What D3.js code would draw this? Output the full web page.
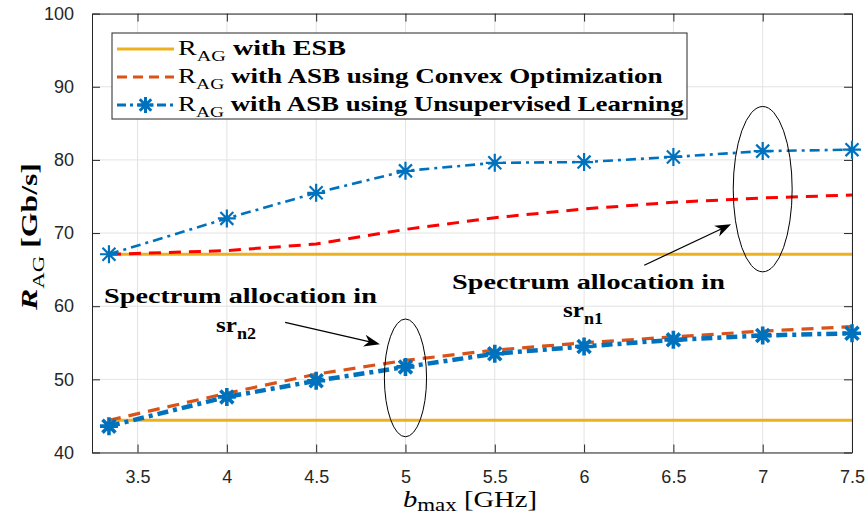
<!DOCTYPE html>
<html>
<head>
<meta charset="utf-8">
<script src="https://cdn.jsdelivr.net/npm/d3@7"></script>
<style>
  body { margin: 0; background: #fff; }
</style>
</head>
<body>
<svg id="chart" width="868" height="518"></svg>
<script>
// data
const bmax = [3.34, 4, 4.5, 5, 5.5, 6, 6.5, 7, 7.5];

// sr_n1 (upper group)
const esbN1    = [67.1, 67.1, 67.1, 67.1, 67.1, 67.1, 67.1, 67.1, 67.1];
const convexN1 = [67.1, 67.6, 68.5, 70.5, 72.1, 73.3, 74.2, 74.8, 75.2];
const unsupN1  = [67.1, 72.0, 75.5, 78.5, 79.6, 79.7, 80.4, 81.2, 81.4];

// sr_n2 (lower group)
const esbN2    = [44.4, 44.4, 44.4, 44.4, 44.4, 44.4, 44.4, 44.4, 44.4];
const convexN2 = [44.4, 48.1, 50.7, 52.6, 54.0, 55.0, 55.8, 56.6, 57.2];
const unsupN2  = [43.6, 47.6, 49.8, 51.7, 53.5, 54.5, 55.4, 56.0, 56.3];

const xTicks = [3.5, 4, 4.5, 5, 5.5, 6, 6.5, 7, 7.5];
const xTickLabels = ["3.5", "4", "4.5", "5", "5.5", "6", "6.5", "7", "7.5"];
const yTicks = [40, 50, 60, 70, 80, 90, 100];
const yTickLabels = ["40", "50", "60", "70", "80", "90", "100"];

const legendLabels = ["with ESB", "with ASB using Convex Optimization", "with ASB using Unsupervised Learning"];

const COLORS = {esb: "#EDB120", convex: "#D95319", convexHi: "#FF0000", unsup: "#0072BD", axis: "#262626", grid: "#e3e3e3"};
const MARGINS = {top: 13.6, right: 16, bottom: 65.5, left: 92};
const WIDTH = 868, HEIGHT = 518;
const SERIF = "'Liberation Serif', 'Times New Roman', serif";
const SANS = "'Liberation Sans', Arial, sans-serif";

const svg = d3.select("#chart");

const x = d3.scaleLinear().domain([3.245, 7.5]).range([MARGINS.left, WIDTH - MARGINS.right]);
const y = d3.scaleLinear().domain([40, 100]).range([HEIGHT - MARGINS.bottom, MARGINS.top]);

// grid
svg.append("g").selectAll("line").data(xTicks).enter().append("line")
    .attr("x1", d => x(d)).attr("x2", d => x(d))
    .attr("y1", y(40)).attr("y2", y(100))
    .style("stroke", COLORS.grid).style("stroke-width", 1);
svg.append("g").selectAll("line").data(yTicks).enter().append("line")
    .attr("x1", x.range()[0]).attr("x2", x.range()[1])
    .attr("y1", d => y(d)).attr("y2", d => y(d))
    .style("stroke", COLORS.grid).style("stroke-width", 1);

// axes with inward ticks on all four sides
function styleAxis(g){
    g.select(".domain").style("stroke", COLORS.axis).style("stroke-width", 1);
    g.selectAll(".tick line").style("stroke", COLORS.axis);
    g.selectAll(".tick text").style("fill", COLORS.axis).style("font-family", SANS).style("font-size", "18px");
}
const fmtX = (d, i) => xTickLabels[i];
const fmtY = (d, i) => yTickLabels[i];

svg.append("g")
    .attr("transform", `translate(0, ${y(40)})`)
    .call(d3.axisBottom(x).tickValues(xTicks).tickFormat(fmtX).tickSizeInner(-8).tickSizeOuter(0).tickPadding(18))
    .call(styleAxis);
svg.append("g")
    .attr("transform", `translate(0, ${y(100)})`)
    .call(d3.axisTop(x).tickValues(xTicks).tickFormat("").tickSizeInner(-8).tickSizeOuter(0))
    .call(styleAxis);
svg.append("g")
    .attr("transform", `translate(${x.range()[0]}, 0)`)
    .call(d3.axisLeft(y).tickValues(yTicks).tickFormat(fmtY).tickSizeInner(-8).tickSizeOuter(0).tickPadding(18))
    .call(styleAxis);
svg.append("g")
    .attr("transform", `translate(${x.range()[1]}, 0)`)
    .call(d3.axisRight(y).tickValues(yTicks).tickFormat("").tickSizeInner(-8).tickSizeOuter(0))
    .call(styleAxis);

// text with sub-scripts, parts: {t, italic, bold, sub}; drawn at origin of its own group
function richText(parent, parts, size, subDrop, subScale){
    subDrop = subDrop === undefined ? 0.3 : subDrop;
    subScale = subScale === undefined ? 0.72 : subScale;
    const g = parent.append("g");
    const t = g.append("text")
        .style("font-family", SERIF)
        .style("font-size", size + "px")
        .style("fill", "#000");
    let shifted = 0;
    parts.forEach(function(p){
        const s = t.append("tspan").text(p.t);
        const want = p.sub ? size * subDrop : 0;
        if (want !== shifted) { s.attr("dy", want - shifted); shifted = want; }
        if (p.sub) s.style("font-size", (size * subScale) + "px");
        s.style("font-style", p.italic ? "italic" : "normal");
        s.style("font-weight", p.bold ? "bold" : "normal");
    });
    return {g: g, t: t};
}

// place text with its start at (px, py), stretched horizontally to the width seen in the reference
function place(rt, px, py, target, rotate){
    const w = rt.t.node().getComputedTextLength();
    const k = target / w;
    rt.g.attr("transform", `translate(${px}, ${py})` + (rotate ? ` rotate(${rotate})` : "") + ` scale(${k}, 1)`);
    return rt;
}

// series
const line = d3.line().x(d => x(d[0])).y(d => y(d[1]));
const zipped = vals => bmax.map((b, i) => [b, vals[i]]);

function drawLine(vals, color, width, dash){
    svg.append("path")
        .datum(zipped(vals))
        .attr("d", line)
        .style("fill", "none")
        .style("stroke", color)
        .style("stroke-width", width)
        .style("stroke-dasharray", dash || null);
}

function starPath(s){
    const d = s * 0.72;
    return `M${-s},0H${s}M0,${-s}V${s}M${-d},${-d}L${d},${d}M${-d},${d}L${d},${-d}`;
}

function drawStars(vals, size, width){
    svg.append("g").selectAll("path").data(zipped(vals)).enter().append("path")
        .attr("transform", d => `translate(${x(d[0])}, ${y(d[1])})`)
        .attr("d", starPath(size))
        .style("fill", "none")
        .style("stroke", COLORS.unsup)
        .style("stroke-width", width);
}

drawLine(esbN1, COLORS.esb, 3);
drawLine(esbN2, COLORS.esb, 3);
drawLine(convexN1, COLORS.convexHi, 3, "12,8");
drawLine(convexN2, COLORS.convex, 3.2, "12,8");
drawLine(unsupN1, COLORS.unsup, 2.6, "10,5,3,5");
drawStars(unsupN1, 9, 2.2);
drawLine(unsupN2, COLORS.unsup, 4.5, "11,5,4,5");
drawStars(unsupN2, 9, 3.6);

// annotations: ellipses + arrows + text
const ann = svg.append("g");
function ellipse(cx, cy, rxVal, ryVal){
    ann.append("ellipse")
        .attr("cx", x(cx)).attr("cy", y(cy))
        .attr("rx", x(cx + rxVal) - x(cx)).attr("ry", y(cy) - y(cy + ryVal))
        .style("fill", "none").style("stroke", "#000").style("stroke-width", 1);
}
function arrow(x0, y0, x1, y1){
    const a = [x(x0), y(y0)], b = [x(x1), y(y1)];
    const ang = Math.atan2(b[1] - a[1], b[0] - a[0]);
    const len = 16, wid = 6;
    ann.append("line")
        .attr("x1", a[0]).attr("y1", a[1])
        .attr("x2", b[0] - Math.cos(ang) * 8).attr("y2", b[1] - Math.sin(ang) * 8)
        .style("stroke", "#000").style("stroke-width", 1.2);
    const c = Math.cos(ang), s = Math.sin(ang);
    const back = [b[0] - c * len, b[1] - s * len];
    const notch = [b[0] - c * len * 0.7, b[1] - s * len * 0.7];
    ann.append("path")
        .attr("d", `M${b[0]},${b[1]}L${back[0] - s * wid},${back[1] + c * wid}L${notch[0]},${notch[1]}L${back[0] + s * wid},${back[1] - c * wid}Z`)
        .style("fill", "#000");
}

ellipse(7.0, 76.0, 0.165, 11.3);
ellipse(5.0, 50.2, 0.118, 8.05);
arrow(6.337, 65.6, 6.823, 71.2);
arrow(4.326, 57.8, 4.857, 54.8);

place(richText(ann, [{t: "Spectrum allocation in", bold: true}], 21), 452, 289, 273);
place(richText(ann, [{t: "sr", bold: true}, {t: "n1", bold: true, sub: true}], 22), 563, 317, 40);
place(richText(ann, [{t: "Spectrum allocation in", bold: true}], 21), 104, 303, 273);
place(richText(ann, [{t: "sr", bold: true}, {t: "n2", bold: true, sub: true}], 22), 216, 332, 40);

// legend
const legend = svg.append("g");
legend.append("rect")
    .attr("x", 112).attr("y", 33).attr("width", 575).attr("height", 86)
    .style("fill", "#fff").style("stroke", COLORS.axis).style("stroke-width", 1);
const legendStyles = [
    {color: COLORS.esb, width: 3, dash: null, star: false},
    {color: COLORS.convex, width: 3, dash: "10,6", star: false},
    {color: COLORS.unsup, width: 3, dash: "9,4,3,4", star: true}
];
const legendWidths = [168, 485, 506];
legendLabels.forEach(function(lbl, i){
    const ly = 49 + i * 28;
    const st = legendStyles[i];
    legend.append("line")
        .attr("x1", 117).attr("x2", 174).attr("y1", ly).attr("y2", ly)
        .style("stroke", st.color).style("stroke-width", st.width)
        .style("stroke-dasharray", st.dash);
    if (st.star) {
        legend.append("path")
            .attr("transform", `translate(145.5, ${ly})`)
            .attr("d", starPath(8))
            .style("fill", "none").style("stroke", st.color).style("stroke-width", 3);
    }
    place(richText(legend, [{t: "R"}, {t: "AG", sub: true}, {t: " " + lbl, bold: true}], 21), 178, ly + 6, legendWidths[i]);
});

// axis labels
place(richText(svg, [{t: "b", italic: true}, {t: "max", sub: true}, {t: " [GHz]"}], 23, 0.18, 0.8), 403, 507, 134);
place(richText(svg, [{t: "R", italic: true, bold: true}, {t: "AG", sub: true}, {t: " [Gb/s]", bold: true}], 23), 37, 310, 147, -90);
</script>
</body>
</html>
